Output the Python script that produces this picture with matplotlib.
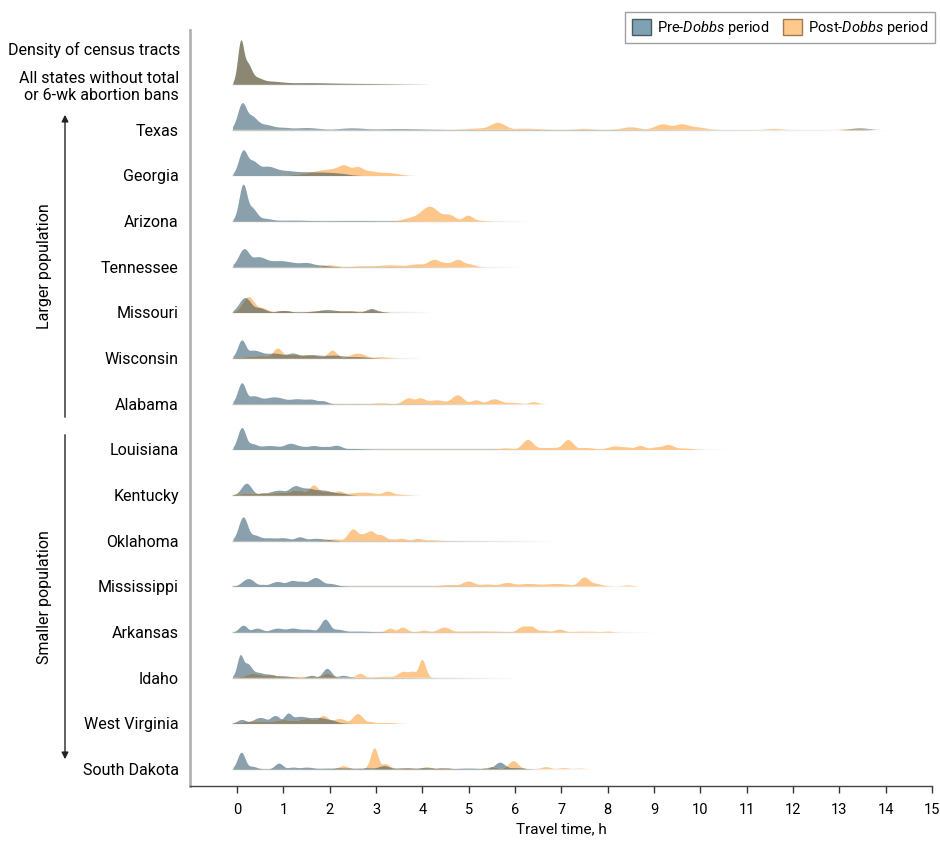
import numpy as np
import matplotlib
matplotlib.use('Agg')
import matplotlib.pyplot as plt
from matplotlib.patches import Patch, FancyArrowPatch

plt.rcParams['font.family'] = ['Roboto', 'DejaVu Sans']
plt.rcParams['mathtext.fontset'] = 'custom'
plt.rcParams['mathtext.it'] = 'Roboto:italic'
plt.rcParams['mathtext.rm'] = 'Roboto'

# %% Dane: kazdy garb gestosci jako (srodek w h, wysokosc, szerokosc w h)
all_states = [(0.08, 43, 0.07), (0.2, 22, 0.11), (0.38, 7, 0.17), (0.7, 3, 0.3), (1.5, 1.5, 0.6), (2.5, 0.7, 0.8)]

texas_pre = [(0.12, 26, 0.1), (0.3, 14, 0.15), (0.6, 5, 0.2), (1.0, 2, 0.2), (1.5, 1.8, 0.25),
             (2.5, 1.5, 0.25), (3.5, 0.8, 0.5), (13.45, 1.5, 0.18)]
texas_post = [(5.63, 7, 0.16), (5.3, 1.5, 0.3), (6.2, 1.2, 0.3), (7.5, 1.0, 0.15), (8.5, 2.5, 0.18),
              (9.2, 5.5, 0.17), (9.6, 5.5, 0.18), (9.9, 2.5, 0.2), (11.6, 1.0, 0.15), (13.3, 0.8, 0.2)]
georgia_pre = [(0.13, 25, 0.1), (0.32, 15, 0.15), (0.65, 9, 0.2), (1.0, 5, 0.3), (1.5, 3.5, 0.3),
               (1.9, 3, 0.25), (2.2, 2, 0.2)]
georgia_post = [(1.6, 2, 0.3), (1.9, 4, 0.3), (2.3, 9, 0.15), (2.6, 8, 0.13), (2.2, 6, 0.4),
                (2.85, 4.5, 0.2), (3.2, 3, 0.2), (3.4, 1.5, 0.15)]
arizona_pre = [(0.13, 37, 0.09), (0.3, 14, 0.12), (0.55, 3, 0.2), (1.2, 1.0, 0.4), (2.5, 0.6, 0.6)]
arizona_post = [(4.15, 15, 0.2), (4.55, 7, 0.15), (3.8, 4, 0.2), (4.98, 6, 0.11), (5.2, 1, 0.15)]
tennessee_pre = [(0.15, 18, 0.12), (0.45, 10, 0.2), (0.9, 6, 0.3), (1.5, 3.5, 0.15), (1.3, 3, 0.35),
                 (1.8, 1.5, 0.15)]
tennessee_post = [(2.0, 2, 0.15), (2.7, 1, 0.2), (3.3, 2, 0.3), (3.9, 3, 0.2), (4.25, 7.5, 0.14),
                  (4.5, 4, 0.15), (4.76, 7.5, 0.13), (5.0, 3, 0.12)]
missouri_pre = [(0.17, 15, 0.13), (0.45, 5, 0.15), (1.0, 2, 0.15), (1.5, 1, 0.2), (1.95, 3, 0.2),
                (2.4, 1.5, 0.2), (2.9, 4, 0.11), (3.05, 1, 0.1)]
missouri_post = [(0.24, 16, 0.13), (0.5, 5, 0.15), (1.0, 2, 0.15), (1.8, 2, 0.2), (2.2, 2, 0.2),
                 (2.6, 1.5, 0.2), (2.9, 3, 0.11), (3.1, 1, 0.1)]
wisconsin_pre = [(0.1, 18, 0.09), (0.35, 8, 0.2), (0.8, 5, 0.25), (1.2, 5, 0.12), (1.6, 3.5, 0.25),
                 (2.1, 3, 0.25), (2.6, 1.5, 0.2)]
wisconsin_post = [(0.5, 2.5, 0.3), (0.87, 10, 0.1), (1.2, 4, 0.25), (1.6, 3, 0.2), (2.05, 8, 0.1),
                  (2.6, 5, 0.17), (3.1, 1.5, 0.15)]
alabama_pre = [(0.1, 21, 0.09), (0.35, 8, 0.17), (0.8, 7, 0.25), (1.3, 5, 0.2), (1.6, 4.5, 0.15),
               (1.85, 3, 0.1)]
alabama_post = [(3.1, 1, 0.15), (3.7, 6, 0.12), (3.95, 6, 0.12), (4.3, 4, 0.2), (4.75, 9, 0.13),
                (5.15, 4, 0.12), (5.55, 5, 0.14), (5.9, 1.5, 0.2), (6.4, 2, 0.1)]
louisiana_pre = [(0.1, 22, 0.09), (0.3, 6, 0.14), (0.7, 4, 0.25), (1.15, 6, 0.15), (1.65, 3.5, 0.12),
                 (1.4, 3, 0.2), (2.15, 4, 0.12), (1.9, 3, 0.2), (2.5, 1, 0.2)]
louisiana_post = [(5.8, 1.5, 0.15), (6.27, 10, 0.12), (6.6, 2, 0.2), (6.9, 2, 0.15), (7.14, 10, 0.11),
                  (7.5, 2, 0.2), (8.15, 3.5, 0.15), (8.4, 2.5, 0.15), (8.7, 4, 0.11), (9.05, 2.5, 0.15),
                  (9.3, 5, 0.13), (9.6, 1.5, 0.2)]
kentucky_pre = [(0.2, 12, 0.11), (0.55, 2, 0.1), (0.9, 5, 0.2), (1.25, 9, 0.13), (1.5, 7, 0.2),
                (1.85, 5, 0.2), (2.2, 2, 0.15)]
kentucky_post = [(0.3, 2, 0.3), (0.9, 2.5, 0.3), (1.3, 5, 0.2), (1.65, 10, 0.1), (1.9, 4, 0.2),
                 (2.2, 4, 0.11), (2.7, 3, 0.3), (3.25, 4, 0.11), (3.5, 1, 0.15)]
oklahoma_pre = [(0.13, 24, 0.1), (0.35, 6, 0.15), (0.7, 3, 0.2), (1.0, 3, 0.15), (1.35, 4, 0.11),
                (1.7, 2.5, 0.2), (1.95, 1, 0.1)]
oklahoma_post = [(2.1, 2, 0.15), (2.5, 12, 0.11), (2.7, 6, 0.1), (2.88, 10, 0.12), (3.1, 6, 0.1),
                 (3.3, 2, 0.15), (3.55, 2.5, 0.11), (3.9, 2.5, 0.11), (4.2, 1, 0.15)]
mississippi_pre = [(0.24, 8, 0.13), (0.55, 2, 0.1), (0.87, 5, 0.15), (1.19, 6, 0.13), (1.4, 5, 0.12),
                   (1.69, 9, 0.14), (2.0, 3, 0.15)]
mississippi_post = [(4.6, 1.5, 0.2), (5.0, 5, 0.13), (5.4, 2, 0.2), (5.84, 3.5, 0.15), (6.3, 2.5, 0.25),
                    (6.9, 2.5, 0.3), (7.5, 9, 0.11), (7.7, 3, 0.15), (8.45, 1, 0.1)]
arkansas_pre = [(0.13, 7, 0.09), (0.43, 4, 0.12), (0.87, 4, 0.15), (1.19, 4, 0.15), (1.5, 3, 0.2),
                (1.9, 13, 0.1), (2.15, 3, 0.15), (2.6, 1, 0.3)]
arkansas_post = [(3.3, 4, 0.09), (3.57, 5, 0.1), (4.03, 2, 0.1), (4.47, 5, 0.13), (5.2, 1.2, 0.5),
                 (6.17, 6, 0.11), (6.34, 6, 0.1), (6.6, 2, 0.12), (6.95, 3, 0.11), (7.5, 1, 0.3),
                 (8.0, 1, 0.1)]
idaho_pre = [(0.08, 22, 0.07), (0.22, 14, 0.11), (0.45, 5, 0.15), (0.7, 3, 0.12), (1.0, 1.5, 0.15),
             (1.62, 2, 0.08), (1.95, 9, 0.09), (2.3, 2, 0.1)]
idaho_post = [(0.35, 4, 0.15), (0.7, 2.5, 0.2), (1.4, 1, 0.3), (1.95, 4, 0.1), (2.66, 4, 0.08),
              (3.2, 1, 0.2), (3.6, 6, 0.12), (3.8, 6, 0.1), (4.0, 18, 0.075)]
wv_pre = [(0.1, 4, 0.1), (0.5, 6, 0.15), (0.82, 8, 0.11), (1.1, 10, 0.09), (1.35, 7, 0.2),
          (1.75, 6, 0.25), (2.05, 2, 0.1)]
wv_post = [(0.4, 2.5, 0.3), (1.0, 4, 0.2), (1.5, 5, 0.2), (1.86, 8, 0.11), (2.2, 5, 0.15),
           (2.6, 10, 0.11), (2.85, 2, 0.1), (3.2, 1, 0.2)]
sd_pre = [(0.09, 17, 0.085), (0.3, 3, 0.12), (0.9, 6, 0.09), (1.2, 2, 0.12), (1.5, 2, 0.15),
          (2.0, 1, 0.3), (2.7, 1, 0.3), (3.18, 3, 0.11), (4.0, 1, 0.4), (5.0, 1, 0.3), (5.67, 7, 0.11),
          (6.0, 1, 0.2)]
sd_post = [(2.3, 3, 0.09), (2.97, 21, 0.08), (3.2, 5, 0.1), (3.6, 1, 0.15), (4.1, 2, 0.09),
           (4.47, 1, 0.1), (5.5, 2, 0.1), (5.97, 8, 0.1), (6.67, 2, 0.09), (7.06, 1, 0.1), (7.4, 0.5, 0.1)]

states = ['Texas', 'Georgia', 'Arizona', 'Tennessee', 'Missouri', 'Wisconsin', 'Alabama', 'Louisiana',
          'Kentucky', 'Oklahoma', 'Mississippi', 'Arkansas', 'Idaho', 'West Virginia', 'South Dakota']
pre_list = [texas_pre, georgia_pre, arizona_pre, tennessee_pre, missouri_pre, wisconsin_pre, alabama_pre,
            louisiana_pre, kentucky_pre, oklahoma_pre, mississippi_pre, arkansas_pre, idaho_pre, wv_pre, sd_pre]
post_list = [texas_post, georgia_post, arizona_post, tennessee_post, missouri_post, wisconsin_post,
             alabama_post, louisiana_post, kentucky_post, oklahoma_post, mississippi_post, arkansas_post,
             idaho_post, wv_post, sd_post]
# koniec ogona rozkladu (h)
tail_end = [14.0, 3.9, 6.3, 6.1, 4.2, 4.0, 6.7, 10.6, 4.0, 6.8, 8.7, 9.0, 6.0, 3.5, 7.7]
all_tail_end = 4.0

pre_color = '#8aa0ad'
post_color = '#fdc78b'
overlap_color = '#8b8773'
scale = 46.0  # px na rzad

x = np.linspace(-0.1, 15, 3000)


def gestosc(bumps):
    # gladkie maksimum z garbow
    y = np.zeros_like(x)
    for c, h, w in bumps:
        y = y + (h * np.exp(-0.5 * ((x - c) / w) ** 2)) ** 2
    y = np.sqrt(y)
    y[x < -0.09] = 0
    return y / scale


def baseline(ax, y0, end):
    xs = np.linspace(-0.1, end, 60)
    alphas = np.clip((end - xs) / (0.45 * (end + 0.1)), 0, 1) * 0.55
    for i in range(len(xs) - 1):
        ax.plot(xs[i:i + 2], [y0, y0], color='#9a9a90', lw=1.0, alpha=alphas[i], solid_capstyle='butt', zorder=1)


fig = plt.figure(figsize=(9.4, 8.41), dpi=100)
ax = fig.add_axes([0.202, 0.0654, 0.7895, 0.8986])

n = len(states)
# wiersz "All states"
y0 = n
ya = gestosc(all_states)
baseline(ax, y0, all_tail_end)
ax.fill_between(x, y0, y0 + ya, where=ya > 0.002, color=overlap_color, lw=0, zorder=2)

for i, st in enumerate(states):
    y0 = n - 1 - i
    yp = gestosc(pre_list[i])
    yq = gestosc(post_list[i])
    baseline(ax, y0, tail_end[i])
    ax.fill_between(x, y0, y0 + yp, where=yp > 0.002, color=pre_color, lw=0, zorder=2)
    ax.fill_between(x, y0, y0 + yq, where=yq > 0.002, color=post_color, lw=0, zorder=2)
    ym = np.minimum(yp, yq)
    ax.fill_between(x, y0, y0 + ym, where=ym > 0.002, color=overlap_color, lw=0, zorder=3)

ax.set_xlim(-1.02, 15.0)
ax.set_ylim(-0.37, 16.18)
ax.set_xticks(range(0, 16))
ax.tick_params(axis='x', length=5, width=1, color='#333333', labelsize=10.5, pad=7)
ax.set_yticks([n] + [n - 1 - i for i in range(n)])
ax.set_yticklabels(['All states without total\nor 6-wk abortion bans'] + states, fontsize=11.5)
ax.tick_params(axis='y', length=0, pad=8)
ax.text(-0.0135, 15.74, 'Density of census tracts', transform=ax.get_yaxis_transform(),
        ha='right', va='center', fontsize=11.5)
ax.set_xlabel('Travel time, h', fontsize=11, labelpad=4)

for s in ['top', 'right']:
    ax.spines[s].set_visible(False)
ax.spines['left'].set_color('#b3b3b3')
ax.spines['left'].set_linewidth(2)
ax.spines['bottom'].set_color('#444444')
ax.spines['bottom'].set_linewidth(1)

# strzalki
fig.add_artist(FancyArrowPatch((65 / 940, 1 - 420 / 841), (65 / 940, 1 - 112 / 841),
                               transform=fig.transFigure, arrowstyle='-|>',
                               mutation_scale=10, lw=1, color='#222222'))
fig.add_artist(FancyArrowPatch((65 / 940, 1 - 432 / 841), (65 / 940, 1 - 762 / 841),
                               transform=fig.transFigure, arrowstyle='-|>',
                               mutation_scale=10, lw=1, color='#222222'))
fig.text(45 / 940, 1 - 266 / 841, 'Larger population', rotation=90, ha='center', va='center', fontsize=11.5)
fig.text(45 / 940, 1 - 597 / 841, 'Smaller population', rotation=90, ha='center', va='center', fontsize=11.5)

handles = [Patch(facecolor='#7ea1b3', edgecolor='#4a5a62', label=r'Pre-$\it{Dobbs}$ period'),
           Patch(facecolor='#fdc98c', edgecolor='#a07a50', label=r'Post-$\it{Dobbs}$ period')]
leg = fig.legend(handles=handles, loc='upper right', bbox_to_anchor=(935 / 940, 1 - 12 / 841), ncol=2,
                 fontsize=10.5, frameon=True, fancybox=False, edgecolor='#888888', handlelength=1.3,
                 handleheight=1.3, columnspacing=1.0, handletextpad=0.4, borderpad=0.45, borderaxespad=0)
leg.get_frame().set_linewidth(1)

plt.savefig('out.png', dpi=100)
